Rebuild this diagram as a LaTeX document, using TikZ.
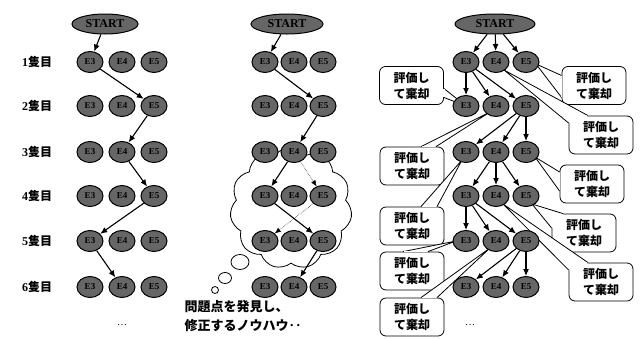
\documentclass[tikz,border=0pt]{standalone}
\usepackage{fontspec}
\setmainfont{Liberation Serif}
\newfontfamily\cjk{Noto Sans CJK JP}
\usetikzlibrary{shapes.geometric,shapes.symbols,arrows.meta,calc}
\newcommand\mycallout[3]{%
  \draw[wedgeline] #1 -- #3 -- #2;
  \draw[gapfix] #1 -- #2;
}
\begin{document}
\begin{tikzpicture}[x=1pt,y=-1pt,
  enode/.style={ellipse, draw=black, line width=1pt, fill=black!60, minimum width=26pt, minimum height=21pt, inner sep=0pt, font=\bfseries\fontsize{9}{9}\selectfont},
  startnode/.style={ellipse, draw=black, line width=1pt, fill=black!60, minimum height=20pt, inner sep=0pt, font=\bfseries\fontsize{12}{12}\selectfont},
  rowlab/.style={font=\bfseries\fontsize{12}{12}\selectfont},
  arr/.style={-{Latex[length=7pt,width=6pt]}, line width=1.1pt},
  dotarr/.style={-{Latex[length=6pt,width=5pt]}, line width=0.5pt, densely dotted},
  cbox/.style={draw, fill=white, rounded corners=6pt, line width=0.8pt, minimum width=64pt, minimum height=38pt, inner sep=1pt, align=center, font=\cjk\bfseries\fontsize{12}{16}\selectfont},
  wedgeline/.style={draw, fill=white, line width=0.8pt},
  gapfix/.style={white, line width=1.4pt, shorten <=0.8pt, shorten >=0.8pt},
  bubble/.style={ellipse, draw, fill=white, line width=0.8pt, inner sep=0pt},
  note/.style={anchor=west, align=left, font=\cjk\bfseries\fontsize{13}{19}\selectfont},
  dots/.style={font=\fontsize{10}{10}\selectfont}
]
\useasboundingbox (0,0) rectangle (642,338);
\fill[white] (0,0) rectangle (642,338);

% ---------- middle: cloud and bubbles (behind) ----------
\node[cloud, draw, fill=white, line width=0.8pt, cloud puffs=11, cloud puff arc=110, aspect=1, minimum width=122pt, minimum height=122pt, inner sep=0pt] (cloud) at (291,208) {};
\node[bubble, minimum width=18pt, minimum height=15pt] (bub1) at (240,262) {};
\node[bubble, minimum width=13pt, minimum height=11pt] (bub2) at (225,278) {};
\node[bubble, minimum width=7pt, minimum height=7pt] (bub3) at (215,290) {};

% ---------- right: callouts (behind) ----------
\node[cbox] (cb1) at (411.5,85.5) {評価し\\て棄却};
\node[cbox] (cb2) at (594,85.5) {評価し\\て棄却};
\node[cbox] (cb3) at (601,135) {評価し\\て棄却};
\node[cbox] (cb4) at (412,166) {評価し\\て棄却};
\node[cbox] (cb5) at (592,184) {評価し\\て棄却};
\node[cbox] (cb6) at (412,226) {評価し\\て棄却};
\node[cbox] (cb9) at (412,271) {評価し\\て棄却};
\node[cbox] (cb10) at (412,317) {評価し\\て棄却};

% ---------- nodes ----------
\node[startnode, minimum width=66pt] (Ls) at (105,24) {START};
\node[startnode, minimum width=72pt] (Ms) at (287,24) {START};
\node[startnode, minimum width=80pt] (Rs) at (495,24) {START};
\foreach \r/\y in {1/62,2/106,3/152,4/196,5/241,6/287}{
  \node[rowlab] (lab\r) at (37,\y) {\r{\cjk 隻目}};
  \node[enode] (L\r-a) at (90,\y) {E3};
  \node[enode] (L\r-b) at (122,\y) {E4};
  \node[enode] (L\r-c) at (154,\y) {E5};
  \node[enode] (M\r-a) at (265,\y) {E3};
  \node[enode] (M\r-b) at (294,\y) {E4};
  \node[enode] (M\r-c) at (323,\y) {E5};
}
\node[dots] (Ldots) at (122,325) {\ldots};
\node[note] (txt) at (181,316) {問題点を発見し、\\修正するノウハウ‥};

% wedges of callouts
\mycallout{([yshift=-3pt]cb1.east)}{([yshift=-12pt]cb1.east)}{(466,106)}
\mycallout{([yshift=10pt]cb2.west)}{([yshift=-12pt]cb2.west)}{(536,64)}
\mycallout{([yshift=12pt]cb3.west)}{([xshift=-13pt]cb3.north)}{(504,70)}
\mycallout{([xshift=9pt]cb4.north)}{([xshift=24pt]cb4.north)}{(490,112)}
\mycallout{([yshift=12pt]cb5.west)}{([yshift=-7pt]cb5.west)}{(535,157)}
\mycallout{([xshift=9pt]cb6.north)}{([xshift=25pt]cb6.north)}{(462,160)}
\mycallout{([xshift=-9pt]cb9.north)}{([xshift=16pt]cb9.north)}{(456,241)}
\mycallout{([xshift=9pt]cb10.north)}{([xshift=25pt]cb10.north)}{(490,248)}
\node[cbox] (cb7) at (584,233) {評価し\\て棄却};
\mycallout{([yshift=5pt]cb7.west)}{([xshift=-21pt]cb7.north)}{(532,204)}
\node[cbox] (cb8) at (601,282) {評価し\\て棄却};
\mycallout{([yshift=12pt]cb8.west)}{([xshift=-13pt]cb8.north)}{(503,204)}

\foreach \r/\y in {1/62,2/106,3/152,4/196,5/241,6/287}{
  \node[enode] (R\r-a) at (466,\y) {E3};
  \node[enode] (R\r-b) at (496,\y) {E4};
  \node[enode] (R\r-c) at (526,\y) {E5};
}
\node[dots] (Rdots) at (470,325) {\ldots};

% ---------- left arrows ----------
\draw[arr] (Ls) -- (L1-a);
\draw[arr] (L1-a) -- (L2-c);
\draw[arr] (L2-c) -- (L3-b);
\draw[arr] (L3-b) -- (L4-c);
\draw[arr] (L4-c) -- (L5-a);
\draw[arr] (L5-a) -- (L6-b);

% ---------- middle arrows ----------
\draw[arr] (Ms) -- (M1-a);
\draw[arr] (M1-a) -- (M2-c);
\draw[arr] (M2-c) -- (M3-b);
\draw[arr] (M3-b) -- (M4-a);
\draw[dotarr] (M3-b) -- (M4-c);
\draw[arr] (M4-a) -- (M5-c);
\draw[dotarr] (M4-c) -- (M5-a);
\draw[arr] (M5-c) -- (M6-b);

% ---------- right arrows ----------
\foreach \t in {a,b,c}{
  \draw[arr] (Rs) -- (R1-\t);
  \draw[arr] (R1-a) -- (R2-\t);
  \draw[arr] (R2-c) -- (R3-\t);
  \draw[arr] (R3-b) -- (R4-\t);
  \draw[arr] (R4-a) -- (R5-\t);
  \draw[arr] (R5-c) -- (R6-\t);
}
\end{tikzpicture}
\end{document}
